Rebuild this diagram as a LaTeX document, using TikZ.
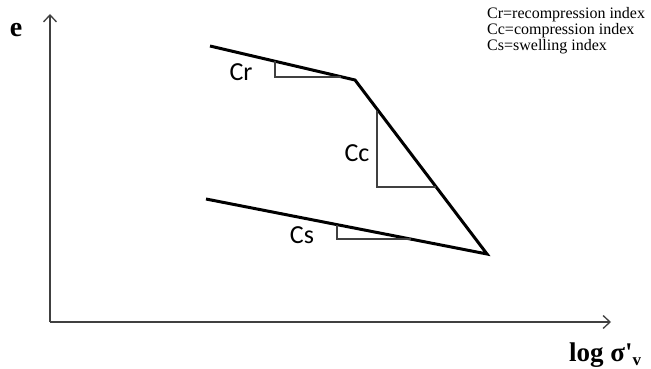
\documentclass[tikz,border=0pt]{standalone}
\usepackage{fontspec}
\setmainfont{Liberation Serif}
\newfontfamily\carl{Carlito}
\usetikzlibrary{arrows.meta}
\begin{document}
\begin{tikzpicture}[x=1pt,y=-1pt,
  axis/.style={draw=black!75,line width=1.5pt,-{Straight Barb[length=7pt,width=13pt,line width=1.3pt]}},
  curve/.style={draw=black,line width=3pt,line join=miter},
  tri/.style={draw=black!75,line width=1.5pt},
  lab/.style={font=\carl\fontsize{26}{26}\selectfont,inner sep=0pt},
  leg/.style={font=\fontsize{16}{17}\selectfont,inner sep=0pt,anchor=west}]
\useasboundingbox (0,0) rectangle (651,369);
\coordinate (O) at (50,322);
\coordinate (Ytop) at (50,14);
\coordinate (Xend) at (611,322);
\draw[axis] (O) -- (Ytop);
\draw[axis] (O) -- (Xend);
\coordinate (A) at (210,46);
\coordinate (K) at (355,80);
\coordinate (B) at (487,254);
\coordinate (C) at (206,199);
\draw[curve] (A) -- (K) -- (B) -- (C);
% Cr triangle
\coordinate (cr1) at (275,61.5);
\coordinate (cr2) at (275,77);
\coordinate (cr3) at (341,77);
\draw[tri] (cr1) -- (cr2) -- (cr3);
% Cc triangle
\coordinate (cc1) at (377,111);
\coordinate (cc2) at (377,187);
\coordinate (cc3) at (436,187);
\draw[tri] (cc1) -- (cc2) -- (cc3);
% Cs triangle
\coordinate (cs1) at (337,224.5);
\coordinate (cs2) at (337,239);
\coordinate (cs3) at (411,239);
\draw[tri] (cs1) -- (cs2) -- (cs3);
\node[lab] (lcr) at (241,72) {Cr};
\node[lab] (lcc) at (357,153) {Cc};
\node[lab] (lcs) at (302,235) {Cs};
\node[font=\bfseries\fontsize{28}{28}\selectfont,inner sep=0pt] (e) at (16,30) {e};
\node[font=\bfseries\fontsize{27}{27}\selectfont,inner sep=0pt,anchor=base west] (xl) at (569,361) {log σ\textquotesingle\raisebox{-4pt}{\fontsize{17}{17}\selectfont v}};
\node[leg] (l1) at (487,15) {Cr=recompression index};
\node[leg] (l2) at (487,31) {Cc=compression index};
\node[leg] (l3) at (487,47) {Cs=swelling index};
\end{tikzpicture}
\end{document}
